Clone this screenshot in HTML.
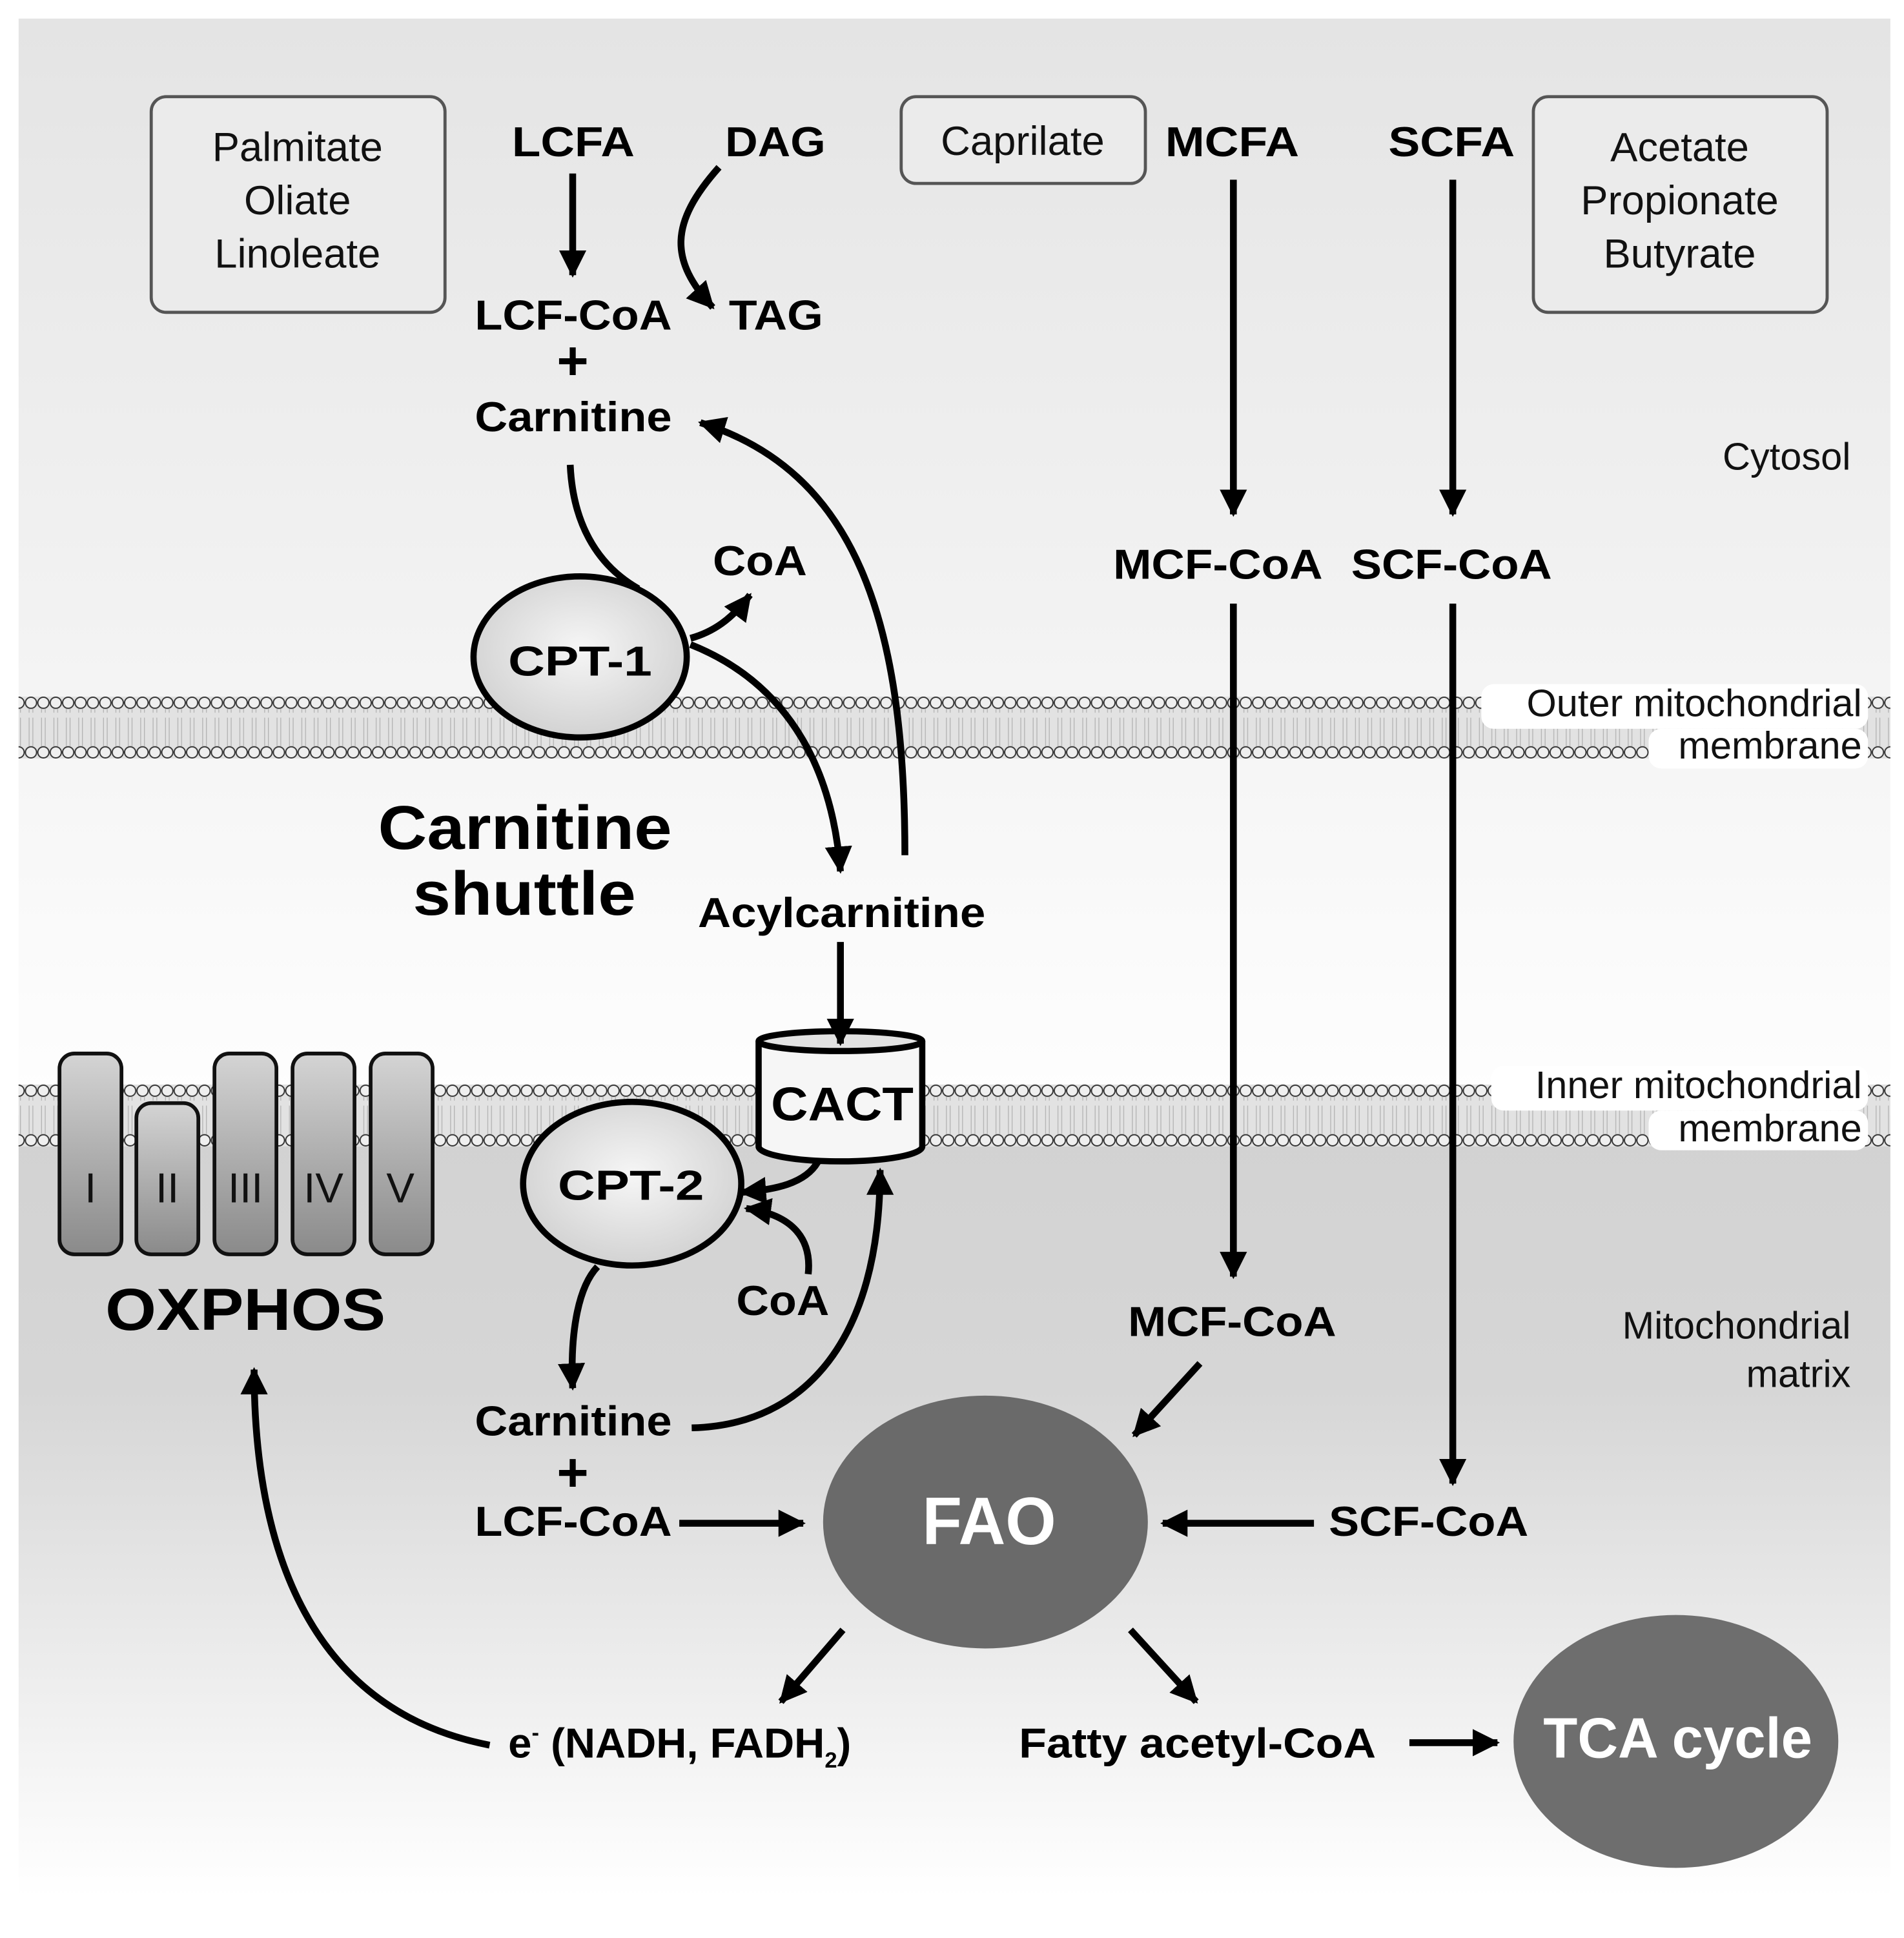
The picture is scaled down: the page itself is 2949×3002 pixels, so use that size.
<!DOCTYPE html>
<html><head><meta charset="utf-8"><style>html,body{margin:0;padding:0;background:#fff}svg{display:block}</style></head>
<body>
<svg width="2949" height="3002" viewBox="0 0 1536 1563.6" xmlns="http://www.w3.org/2000/svg" font-family="Liberation Sans, Arial, sans-serif">
<defs>
<linearGradient id="top" x1="0" y1="0" x2="0" y2="1"><stop offset="0" stop-color="#e4e4e4"/><stop offset="1" stop-color="#ffffff"/></linearGradient>
<linearGradient id="bot" x1="0" y1="0" x2="0" y2="1"><stop offset="0" stop-color="#d2d2d2"/><stop offset="0.35" stop-color="#d6d6d6"/><stop offset="1" stop-color="#ffffff"/></linearGradient>
<linearGradient id="cx" x1="0" y1="0" x2="0" y2="1"><stop offset="0" stop-color="#d4d4d4"/><stop offset="1" stop-color="#8a8a8a"/></linearGradient>
<radialGradient id="en" cx="0.5" cy="0.45" r="0.6"><stop offset="0" stop-color="#f6f6f6"/><stop offset="1" stop-color="#cfcfcf"/></radialGradient>
<pattern id="heads" x="0" y="0" width="10" height="10" patternUnits="userSpaceOnUse">
<circle cx="5" cy="5" r="4.5" fill="#efefef" stroke="#333" stroke-width="1"/>
</pattern>
<pattern id="tails" x="0" y="0" width="10" height="30" patternUnits="userSpaceOnUse">
<path d="M3.5 0 L3.5 13 M6.5 0 L6.5 13 M3.5 17 L3.5 30 M6.5 17 L6.5 30" stroke="#b4b4b4" stroke-width="0.7"/>
</pattern>
<g id="mem">
<rect x="15" y="0" width="1510" height="50" fill="#e2e2e2"/>
<rect x="15" y="10" width="1510" height="30" fill="url(#tails)"/>
<rect x="15" y="0" width="1510" height="10" fill="url(#heads)"/>
<rect x="15" y="40" width="1510" height="10" fill="url(#heads)"/>
</g>
<marker id="a" markerWidth="24" markerHeight="22" refX="20" refY="11" orient="auto" markerUnits="userSpaceOnUse"><path d="M0 0 L22 11 L0 22 z" fill="#000"/></marker>
</defs>
<rect x="15" y="15" width="1510" height="910" fill="url(#top)"/>
<rect x="15" y="900" width="1510" height="630" fill="url(#bot)"/>
<!-- membranes -->
<use href="#mem" transform="translate(0,562)"/>
<use href="#mem" transform="translate(0,875)"/>
<g fill="#fff">
<rect x="1195" y="552" width="312" height="36" rx="10"/>
<rect x="1330" y="588" width="177" height="32" rx="10"/>
<rect x="1203" y="860" width="304" height="36" rx="10"/>
<rect x="1330" y="896" width="177" height="32" rx="10"/>
</g>
<!-- boxes -->
<g fill="#ebebeb" stroke="#555" stroke-width="2.5">
<rect x="122" y="78" width="237" height="174" rx="12"/>
<rect x="727" y="78" width="197" height="70" rx="12"/>
<rect x="1237" y="78" width="237" height="174" rx="12"/>
</g>
<!-- OXPHOS complexes -->
<g fill="url(#cx)" stroke="#111" stroke-width="3">
<rect x="48" y="850" width="50" height="162" rx="12"/>
<rect x="110" y="890" width="50" height="122" rx="12"/>
<rect x="173" y="850" width="50" height="162" rx="12"/>
<rect x="236" y="850" width="50" height="162" rx="12"/>
<rect x="299" y="850" width="50" height="162" rx="12"/>
</g>
<g font-size="34" text-anchor="middle" fill="#111">
<text x="73" y="970">I</text><text x="135" y="970">II</text><text x="198" y="970">III</text><text x="261" y="970">IV</text><text x="323" y="970">V</text>
</g>
<!-- CACT -->
<path d="M612 840 L612 925 A66 12 0 0 0 744 925 L744 840" fill="#f6f6f6" stroke="#000" stroke-width="5"/>
<ellipse cx="678" cy="840" rx="66" ry="8" fill="#e2e2e2" stroke="#000" stroke-width="5"/>
<!-- enzymes -->
<ellipse cx="468" cy="530" rx="86" ry="65" fill="url(#en)" stroke="#000" stroke-width="5"/>
<ellipse cx="510" cy="955" rx="88" ry="66" fill="url(#en)" stroke="#000" stroke-width="5"/>
<ellipse cx="795" cy="1228" rx="131" ry="102" fill="#6a6a6a"/>
<ellipse cx="1352" cy="1405" rx="131" ry="102" fill="#6e6e6e"/>
<!-- arrows -->
<g fill="none" stroke="#000" stroke-width="5.5" marker-end="url(#a)">
<path d="M462 140 L462 222"/>
<path d="M580 135 C540 180 540 210 575 248"/>
<path d="M995 145 L995 415"/>
<path d="M1172 145 L1172 415"/>
<path d="M995 487 L995 1030"/>
<path d="M1172 487 L1172 1197"/>
<path d="M557 515 C575 510 590 500 605 480"/>
<path d="M557 520 C620 545 670 600 678 703"/>
<path d="M730 690 C730 500 690 380 565 341"/>
<path d="M678 760 L678 842"/>
<path d="M660 937 C650 955 625 960 598 962"/>
<path d="M652 1028 C655 1000 640 980 602 975"/>
<path d="M482 1022 C465 1040 460 1080 462 1120"/>
<path d="M558 1152 C650 1150 710 1080 710 944"/>
<path d="M548 1229 L648 1229"/>
<path d="M968 1100 L915 1158"/>
<path d="M1060 1229 L938 1229"/>
<path d="M680 1315 L630 1373"/>
<path d="M912 1315 L965 1373"/>
<path d="M1137 1406 L1208 1406"/>
<path d="M395 1408 C250 1380 205 1250 205 1105"/>
</g>
<path d="M460 375 C462 420 480 455 515 475" fill="none" stroke="#000" stroke-width="5.5"/>
<!-- bold labels -->
<g font-weight="bold" font-size="34" fill="#000">
<text x="413" y="126" textLength="99" lengthAdjust="spacingAndGlyphs">LCFA</text>
<text x="585" y="126" textLength="81" lengthAdjust="spacingAndGlyphs">DAG</text>
<text x="383" y="266" textLength="159" lengthAdjust="spacingAndGlyphs">LCF-CoA</text>
<text x="588" y="266" textLength="76" lengthAdjust="spacingAndGlyphs">TAG</text>
<text x="383" y="348" textLength="159" lengthAdjust="spacingAndGlyphs">Carnitine</text>
<text x="940" y="126" textLength="108" lengthAdjust="spacingAndGlyphs">MCFA</text>
<text x="1120" y="126" textLength="102" lengthAdjust="spacingAndGlyphs">SCFA</text>
<text x="898" y="467" textLength="169" lengthAdjust="spacingAndGlyphs">MCF-CoA</text>
<text x="1090" y="467" textLength="162" lengthAdjust="spacingAndGlyphs">SCF-CoA</text>
<text x="575" y="464" textLength="76" lengthAdjust="spacingAndGlyphs">CoA</text>
<text x="410" y="545" textLength="116" lengthAdjust="spacingAndGlyphs">CPT-1</text>
<text x="563" y="748" textLength="232" lengthAdjust="spacingAndGlyphs">Acylcarnitine</text>
<text x="622" y="904" textLength="115" lengthAdjust="spacingAndGlyphs" font-size="38">CACT</text>
<text x="450" y="968" textLength="118" lengthAdjust="spacingAndGlyphs">CPT-2</text>
<text x="594" y="1061" textLength="75" lengthAdjust="spacingAndGlyphs">CoA</text>
<text x="383" y="1158" textLength="159" lengthAdjust="spacingAndGlyphs">Carnitine</text>
<text x="383" y="1239" textLength="159" lengthAdjust="spacingAndGlyphs">LCF-CoA</text>
<text x="910" y="1078" textLength="168" lengthAdjust="spacingAndGlyphs">MCF-CoA</text>
<text x="1072" y="1239" textLength="161" lengthAdjust="spacingAndGlyphs">SCF-CoA</text>
<text x="822" y="1418" textLength="288" lengthAdjust="spacingAndGlyphs">Fatty acetyl-CoA</text>
<text x="410" y="1418">e<tspan font-size="18" dy="-14">-</tspan><tspan dy="14"> (NADH, FADH</tspan><tspan font-size="18" dy="8">2</tspan><tspan dy="-8">)</tspan></text>
<text x="305" y="685" font-size="50" textLength="237" lengthAdjust="spacingAndGlyphs">Carnitine</text>
<text x="333" y="738" font-size="50" textLength="180" lengthAdjust="spacingAndGlyphs">shuttle</text>
<text x="85" y="1073" font-size="48" textLength="226" lengthAdjust="spacingAndGlyphs">OXPHOS</text>
<text x="744" y="1246" font-size="54" fill="#fff" textLength="108" lengthAdjust="spacingAndGlyphs">FAO</text>
<text x="1245" y="1418" font-size="46" fill="#fff" textLength="217" lengthAdjust="spacingAndGlyphs">TCA cycle</text>
<text x="462" y="306" font-size="44" text-anchor="middle">+</text>
<text x="462" y="1203" font-size="44" text-anchor="middle">+</text>
</g>
<!-- normal labels -->
<g font-size="33" fill="#111" text-anchor="middle">
<text x="240" y="130">Palmitate</text><text x="240" y="173">Oliate</text><text x="240" y="216">Linoleate</text>
<text x="825" y="125">Caprilate</text>
<text x="1355" y="130">Acetate</text><text x="1355" y="173">Propionate</text><text x="1355" y="216">Butyrate</text>
</g>
<g font-size="31" fill="#111" text-anchor="end">
<text x="1493" y="379">Cytosol</text>
<text x="1502" y="578">Outer mitochondrial</text><text x="1502" y="612">membrane</text>
<text x="1502" y="886">Inner mitochondrial</text><text x="1502" y="921">membrane</text>
<text x="1493" y="1080">Mitochondrial</text><text x="1493" y="1119">matrix</text>
</g>
</svg>
</body></html>
